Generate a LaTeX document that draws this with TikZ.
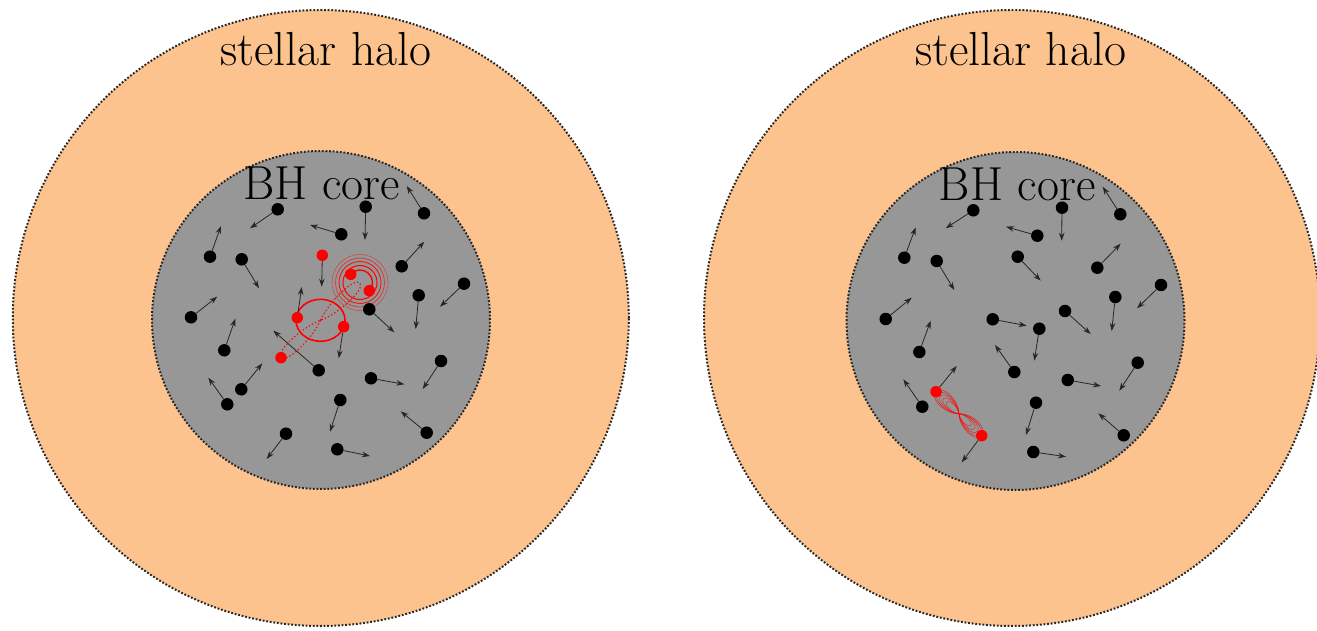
\documentclass[tikz,border=0pt]{standalone}
\usetikzlibrary{arrows.meta}
\definecolor{halo}{RGB}{252,195,143}
\definecolor{core}{RGB}{151,151,151}
\begin{document}
\begin{tikzpicture}[x=1pt,y=1pt,
  shell/.style={draw=black!85, line width=2pt, dash pattern=on 1.8pt off 1.8pt},
  bh/.style={circle, fill=black, inner sep=0pt, minimum size=12.5pt},
  rbh/.style={circle, fill=red, inner sep=0pt, minimum size=11.5pt},
  vel/.style={draw=black!85, line width=0.8pt, -{Stealth[length=8pt,width=5.5pt]}},
  lbl/.style={font=\fontsize{47.8}{54}\selectfont, inner sep=0pt, anchor=base},
  orbit/.style={draw=red, line width=1.6pt},
  ring/.style={draw=red, line width=#1},
  track/.style={draw=red, line width=1.1pt, dash pattern=on 1.4pt off 2.2pt},
  loop/.style={draw=red, line width=0.5pt, opacity=0.7}
]
\useasboundingbox (0,0) rectangle (1317,630);
\clip (0,0) rectangle (1317,630);

% ---------- halo and core shells ----------
\coordinate (hL) at (320.8,630-318);
\coordinate (cL) at (321,630-320);
\coordinate (hR) at (1012,630-318);
\coordinate (cR) at (1015.5,630-321);
\fill[halo] (hL) circle[radius=308pt];
\draw[shell] (hL) circle[radius=308pt];
\fill[core] (cL) circle[radius=169pt];
\draw[shell] (cL) circle[radius=169pt];
\fill[halo] (hR) circle[radius=308pt];
\draw[shell] (hR) circle[radius=308pt];
\fill[core] (cR) circle[radius=169pt];
\draw[shell] (cR) circle[radius=169pt];

\node[lbl] (haloL) at (325.8,630-65.7) {stellar halo};
\node[lbl] (coreL) at (321.8,630-200) {BH core};
\node[lbl] (haloR) at (1020.5,630-65.7) {stellar halo};
\node[lbl] (coreR) at (1017.2,630-200.7) {BH core};

% ---------- left: triple interaction ----------
% binary orbit
\coordinate (eL) at (320.5,630-320.3);
\draw[orbit] (eL) ellipse[x radius=24.5pt, y radius=21pt];
% tight inspiralling binary
\coordinate (gL) at (360,630-282.5);
\draw[ring=0.6pt, opacity=0.5] (gL) circle[radius=28pt];
\draw[ring=0.7pt, opacity=0.65] (gL) circle[radius=24.5pt];
\draw[ring=0.9pt, opacity=0.85] (gL) circle[radius=21pt];
\draw[ring=1pt] (gL) circle[radius=17pt];
\draw[ring=1.4pt] ([shift={(138.6:12.5pt)}]gL) arc[start angle=138.6, end angle=-41.4, radius=12.5pt];
% path of the third body
\begin{scope}[shift={(eL)}, rotate=43.4]
  \draw[track] (0,0) .. controls (19,8) and (54.3,8) .. (54.3,0)
                     .. controls (54.3,-8) and (19,-8) .. (0,0)
                     .. controls (-19,8) and (-54.3,8) .. (-54.3,0)
                     .. controls (-54.3,-8) and (-19,-8) .. (0,0);
\end{scope}

\foreach \n/\x/\y/\tx/\ty in {
  a1/277.7/209.3/250/228.3, a2/365.7/206.7/365/240, a3/424/213.3/406.7/186,
  a4/341.3/234.3/310/225, a5/210/256.7/221/226, a6/241.7/259.3/259/288.3,
  a8/401.7/266.3/424.3/241.7, a9/464/283.7/440/306.7, a10/418.7/295.3/415.7/329,
  a11/191/317.3/217.3/296.7, a12/369.3/309.3/394.3/332.3, a13/224.3/350.3/235.3/318.7,
  a14/318.7/370.3/273.3/330.7, a15/441/361/422.7/389, a16/371/378.3/404.3/384.3,
  a17/241.3/389.3/262.3/363.3, a18/227.3/404.3/208.3/377.7, a19/340.3/400/330/431.7,
  a20/426.7/432.7/400.7/411.3, a21/286/433.7/266.7/459, a22/337.3/449.3/370/456}
{
  \coordinate (\n-t) at (\tx,630-\ty);
  \node[bh] (\n) at (\x,630-\y) {};
  \draw[vel] (\n) -- (\n-t);
}
\foreach \n/\x/\y/\tx/\ty in {
  r0/322.3/255.3/321.7/286.7, r3/297.3/317.7/301.7/287, r4/343.7/326.7/338.7/358.3}
{
  \coordinate (\n-t) at (\tx,630-\ty);
  \node[rbh] (\n) at (\x,630-\y) {};
  \draw[vel] (\n) -- (\n-t);
}
\node[rbh] (r1) at (350.7,630-274.3) {};
\node[rbh] (r2) at (369.3,630-290.7) {};
\node[rbh] (r5) at (281,630-357.7) {};

% ---------- right: bound pair ----------
\coordinate (pR) at (958.9,630-413.7);
\begin{scope}[shift={(pR)}, rotate=-44]
  \foreach \L/\w in {31.5/10, 29/8.5, 25.5/7, 21.5/5.5, 17/4}{
    \draw[loop] (0,0) .. controls (0.3*\L,\w) and (\L,\w) .. (\L,0)
                      .. controls (\L,-\w) and (0.3*\L,-\w) .. (0,0)
                      .. controls (-0.3*\L,\w) and (-\L,\w) .. (-\L,0)
                      .. controls (-\L,-\w) and (-0.3*\L,-\w) .. (0,0);
  }
\end{scope}

\foreach \n/\x/\y/\tx/\ty in {
  b1/973.3/210.3/945.7/228.3, b2/1062/207.7/1061.7/240.7, b3/1120.3/214.3/1102.7/186.7,
  b4/1037.3/235.7/1006/226.7, b5/904.3/257.7/915.7/227.3, b6/936.7/261/954.3/290,
  b7/1017.7/256.7/1040.7/280.7, b8/1097.3/267.7/1120.7/243.7, b9/1161/285/1137/308.3,
  b10/1115.3/297/1111.7/331, b11/885.7/319/911.7/297.7, b12/1065/311/1090.7/334,
  b13/992.7/319.3/1026.7/325.7, b14/1039.3/328.7/1034.3/360.7, b15/919.3/352/930.7/320.7,
  b16/1137.7/362.7/1119.3/390.7, b17/1014.3/372/995/345, b18/1067.7/380/1101/386,
  b19/922.3/406.7/903.3/379.3, b20/1036/402.7/1026/435, b21/1123.7/435.3/1098.3/413.3,
  b22/1033.3/452/1066/456.7}
{
  \coordinate (\n-t) at (\tx,630-\ty);
  \node[bh] (\n) at (\x,630-\y) {};
  \draw[vel] (\n) -- (\n-t);
}
\foreach \n/\x/\y/\tx/\ty in {
  s1/936/391.7/956.7/366, s2/981.7/435.7/961.7/462.3}
{
  \coordinate (\n-t) at (\tx,630-\ty);
  \node[rbh] (\n) at (\x,630-\y) {};
  \draw[vel] (\n) -- (\n-t);
}
\end{tikzpicture}
\end{document}
